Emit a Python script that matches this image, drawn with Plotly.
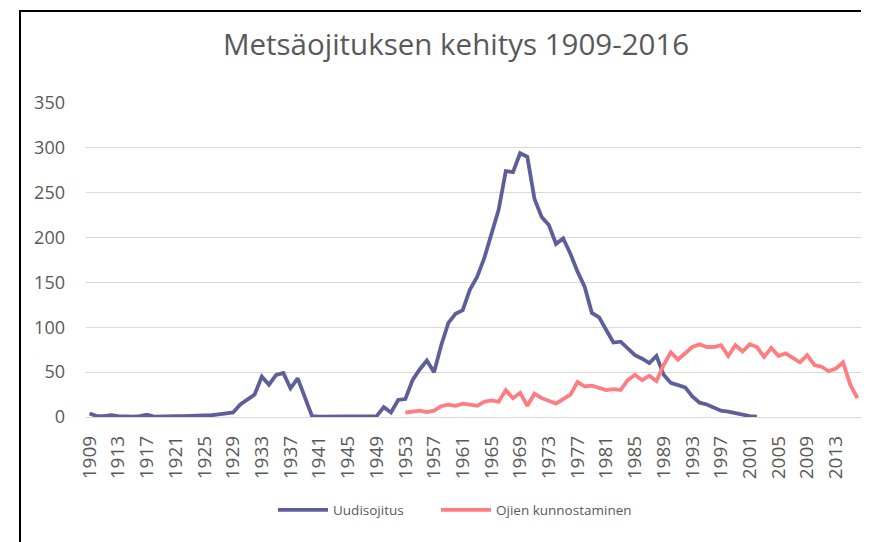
import plotly.graph_objects as go

years = list(range(1909, 2017))

uudisojitus = [
    4, 1, 1, 2, 1, 0.5, 0.5, 1, 2.5, 0.5,          # 1909-1918
    1, 1.5, 1, 1, 1, 2, 2, 2, 3, 4,                 # 1919-1928
    5, 14, 20, 25, 45, 36, 47, 49, 32, 43,          # 1929-1938
    22, 1, 0.5, 0.5, 0.5, 0.5, 0.5, 0.5, 0.5, 0.5,  # 1939-1948
    1, 11, 5, 19, 20, 41, 53, 63, 50, 80,           # 1949-1958
    105, 115, 119, 142, 156, 177, 204, 231, 274, 273,  # 1959-1968
    294, 290, 243, 223, 214, 193, 199, 182, 162, 145,  # 1969-1978
    116, 111, 97, 83, 84, 77, 69, 65, 60, 68,       # 1979-1988
    47, 38, 35, 33, 23, 16, 14, 10, 7, 6,           # 1989-1998
    4.5, 2, 1, 0.5,                                 # 1999-2002
] + [None] * 14

kunnostaminen = [None] * 44 + [
    5, 6, 7, 5.5, 7, 12, 13.7, 12.5, 14.8, 13.7,    # 1953-1962
    12.5, 17, 18.5, 17, 30, 21, 27, 12.5, 26, 21,   # 1963-1972
    18.5, 15, 20, 25, 39, 34, 35, 33, 30, 31,       # 1973-1982
    30, 41, 47, 41, 46, 40, 58, 72, 64, 71,         # 1983-1992
    78, 81, 78, 78, 80, 68, 80, 73, 81, 78,         # 1993-2002
    67, 77, 68, 71, 66, 61, 69, 58, 56, 51,         # 2003-2012
    54, 61, 36, 21,                                 # 2013-2016
]

cats = [str(y) for y in years]
tick_labels = [str(y) for y in range(1909, 2017, 4)]

font_family = "Open Sans, Liberation Sans, sans-serif"
grey = "#595959"

# page body has an 8px margin, so the figure is sized/offset accordingly
W, H = 861, 534
L, T, B = 78, 95, 125
PW = 775
PH = H - T - B
R = W - L - PW

def px_x(x):
    return (x - 8 - L) / PW

def px_y(y):
    return (H - B - (y - 8)) / PH

fig = go.Figure()
fig.add_trace(go.Scatter(
    x=cats, y=uudisojitus, mode="lines", name="Uudisojitus",
    line=dict(color="#5E5F9A", width=3.8), cliponaxis=False, legend="legend",
))
fig.add_trace(go.Scatter(
    x=cats, y=kunnostaminen, mode="lines", name="Ojien kunnostaminen",
    line=dict(color="#FF7C80", width=3.8), cliponaxis=False, legend="legend2",
))

legend_common = dict(orientation="h", xanchor="left", y=px_y(510), yanchor="middle",
                     font=dict(size=13.5, color=grey), itemwidth=50,
                     bgcolor="rgba(0,0,0,0)")

fig.update_layout(
    width=W, height=H,
    margin=dict(l=L, r=R, t=T, b=B),
    paper_bgcolor="white", plot_bgcolor="white",
    title=dict(text="Metsäojituksen kehitys 1909-2016", x=(456 - 8) / W, xanchor="center",
               y=1 - (45 - 8) / H, yanchor="middle",
               font=dict(family=font_family, size=29.5, color=grey)),
    font=dict(family=font_family, color=grey),
    showlegend=True,
    legend=dict(x=px_x(273), **legend_common),
    legend2=dict(x=px_x(436), **legend_common),
    xaxis=dict(type="category", range=[-0.5, 107.5], tickmode="array",
               tickvals=tick_labels, ticktext=tick_labels, tickangle=-90,
               showgrid=False, showline=False, ticks="",
               ticklabelstandoff=14,
               tickfont=dict(size=19, color=grey)),
    yaxis=dict(range=[0, 350], dtick=50, showgrid=True, gridcolor="#D9D9D9",
               gridwidth=1, zeroline=True, zerolinecolor="#D9D9D9", zerolinewidth=1,
               showline=False, ticks="", ticklabelstandoff=20,
               tickfont=dict(size=18, color=grey)),
    shapes=[dict(type="rect", xref="paper", yref="paper",
                 x0=px_x(20), x1=px_x(862),
                 y0=px_y(570), y1=px_y(11),
                 line=dict(color="black", width=2), fillcolor="rgba(0,0,0,0)",
                 layer="below")],
)

fig.write_html("out.html")
